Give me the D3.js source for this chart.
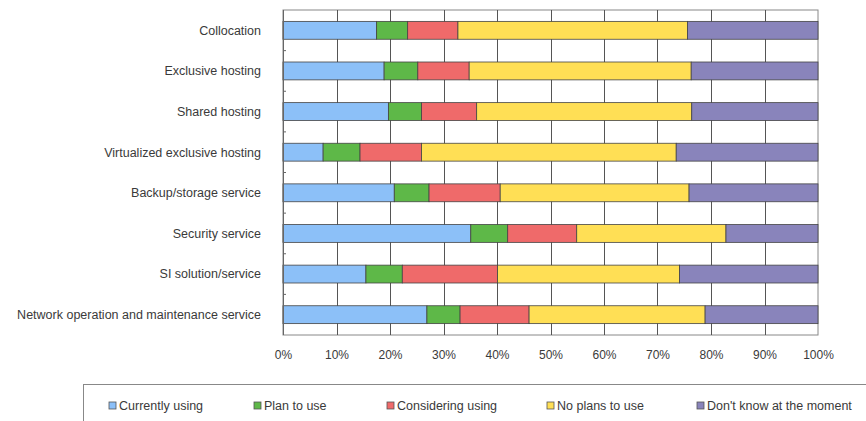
<!DOCTYPE html>
<html><head><meta charset="utf-8">
<script src="https://cdn.jsdelivr.net/npm/d3@7"></script>
<style>html,body{margin:0;padding:0;background:#fff;}svg{display:block;}</style>
</head><body>
<svg id="c" width="866" height="421"></svg>
<script>
const categories = ["Collocation","Exclusive hosting","Shared hosting","Virtualized exclusive hosting","Backup/storage service","Security service","SI solution/service","Network operation and maintenance service"];
const seriesNames = ["Currently using","Plan to use","Considering using","No plans to use","Don't know at the moment"];
const currentlyUsing = [17.5,18.9,19.7,7.5,20.8,35.1,15.5,26.9];
const planToUse      = [5.8,6.3,6.2,6.9,6.5,6.9,6.8,6.2];
const considering    = [9.4,9.6,10.3,11.5,13.3,12.9,17.8,12.9];
const noPlans        = [42.9,41.5,40.2,47.6,35.3,27.9,34.0,32.9];
const dontKnow       = [24.4,23.7,23.6,26.5,24.1,17.2,25.9,21.1];
const tickValues = [0,10,20,30,40,50,60,70,80,90,100];
const colors = ["#8cc0f8","#5eb848","#ef6a6a","#ffdf55","#8984bb"];

const seriesVals = [currentlyUsing,planToUse,considering,noPlans,dontKnow];
const rows = categories.map((c,i)=>{const o={cat:c}; seriesNames.forEach((s,j)=>o[s]=seriesVals[j][i]); return o;});
const stack = d3.stack().keys(seriesNames)(rows);

const FONT = "Liberation Sans, Arial, sans-serif";
const svg = d3.select("#c");
const L=283,R=818,T=10,B=335;
const x = d3.scaleLinear().domain([0,100]).range([L,R]);
const y = d3.scaleBand().domain(categories).range([T,B]).paddingInner(0.56).paddingOuter(0.28);

svg.append("rect").attr("x",L).attr("y",T).attr("width",R-L).attr("height",B-T)
  .attr("fill","#fff").attr("stroke","#888").attr("stroke-width",1);
svg.append("g").selectAll("line").data(tickValues.slice(1,-1)).join("line")
  .attr("x1",d=>Math.round(x(d))+0.5).attr("x2",d=>Math.round(x(d))+0.5)
  .attr("y1",T).attr("y2",B).attr("stroke","#555").attr("stroke-width",1);

svg.append("g").selectAll("g").data(stack).join("g")
  .attr("fill",(d,i)=>colors[i])
  .selectAll("rect").data(d=>d).join("rect")
  .attr("x",d=>x(d[0])).attr("width",d=>x(d[1])-x(d[0]))
  .attr("y",d=>y(d.data.cat)).attr("height",y.bandwidth())
  .attr("stroke","#444").attr("stroke-width",0.8);

svg.append("line").attr("x1",L+0.5).attr("x2",L+0.5).attr("y1",T).attr("y2",B).attr("stroke","#666");
svg.append("g").selectAll("line").data(d3.range(1,categories.length)).join("line")
  .attr("x1",L).attr("x2",L+3)
  .attr("y1",i=>T+i*(B-T)/categories.length).attr("y2",i=>T+i*(B-T)/categories.length)
  .attr("stroke","#666");

svg.append("g").selectAll("text").data(categories).join("text")
  .attr("x",261).attr("y",d=>y(d)+y.bandwidth()/2).attr("dy","0.35em")
  .attr("text-anchor","end").attr("font-family",FONT)
  .attr("font-size",12.5).attr("fill","#3a3a3a").text(d=>d);

const xAxis = d3.axisBottom(x).tickValues(tickValues).tickFormat(d=>d+"%").tickSize(0).tickPadding(15);
const gx = svg.append("g").attr("transform",`translate(0,${B})`).call(xAxis);
gx.select(".domain").remove();
gx.selectAll("text").attr("font-family",FONT).attr("font-size",12).attr("fill","#3a3a3a");

svg.append("rect").attr("x",83.5).attr("y",384.5).attr("width",800).attr("height",60)
  .attr("fill","#fff").attr("stroke","#888");
const legX = [109,254,387,547,697];
const lg = svg.append("g").selectAll("g").data(seriesNames).join("g")
  .attr("transform",(d,i)=>`translate(${legX[i]},406)`);
lg.append("rect").attr("x",0).attr("y",-4).attr("width",7).attr("height",7)
  .attr("fill",(d,i)=>colors[i]).attr("stroke","#555").attr("stroke-width",0.8);
lg.append("text").attr("x",10).attr("y",0).attr("dy","0.35em")
  .attr("font-family",FONT).attr("font-size",12.5).attr("fill","#3a3a3a").text(d=>d);
</script>
</body></html>
